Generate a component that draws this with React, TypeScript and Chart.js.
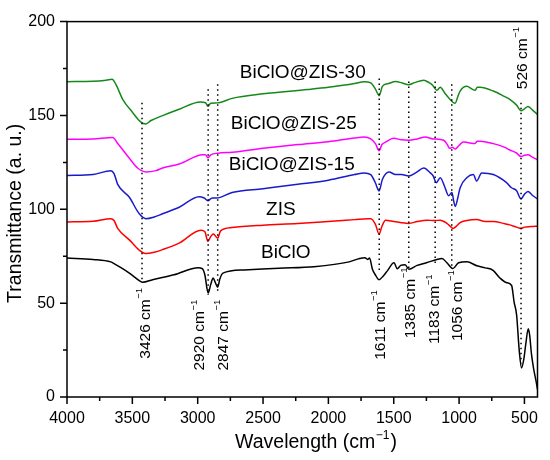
import { useEffect, useRef } from "react"
import { Chart, registerables } from "chart.js"

Chart.register(...registerables)

const FONT = "'Liberation Sans', Arial, Helvetica, sans-serif"

// FTIR spectra: wavenumber (cm-1) and transmittance (a. u.)
const wnBiClO = [4000, 3800, 3665, 3650, 3587, 3523, 3447, 3421, 3345, 3182, 2995, 2965, 2945, 2920, 2900, 2882, 2865, 2847, 2830, 2807, 2646, 2378, 2110, 1841, 1761, 1720, 1700, 1685, 1663, 1640, 1613, 1580, 1549, 1498, 1473, 1447, 1413, 1384, 1321, 1250, 1169, 1131, 1093, 1047, 1004, 940, 864, 800, 740, 688, 640, 598, 579, 560, 540, 522, 505, 490, 471, 460, 446, 428, 410, 400]
const tBiClO = [74, 73.3, 72, 71.5, 68.9, 66, 62, 61.1, 62.5, 65.1, 68.9, 68.4, 65, 55.4, 60, 63.4, 61, 58.5, 63, 66, 67.7, 68.6, 69.4, 72, 73.8, 74.2, 73.3, 74.1, 68, 65, 62.5, 64.5, 67.2, 71.5, 68.3, 70.1, 70.5, 68, 70.1, 71.5, 73.3, 73.8, 71.5, 68.4, 71.5, 72, 69.9, 68.8, 67.5, 63.4, 61, 59.4, 50.6, 43.8, 25, 15.5, 20, 28, 36.4, 33, 22.8, 14.4, 8, 4]

const wnZIS = [4000, 3800, 3665, 3640, 3612, 3523, 3447, 3399, 3333, 3269, 3142, 2975, 2945, 2922, 2900, 2880, 2847, 2825, 2737, 2500, 2234, 2000, 1800, 1700, 1676, 1640, 1612, 1590, 1562, 1500, 1450, 1385, 1320, 1245, 1190, 1144, 1093, 1060, 1047, 1020, 992, 940, 866, 800, 738, 650, 612, 560, 526, 500, 450, 400]
const tZIS = [93.3, 93.6, 95, 94, 89.8, 83.7, 78.2, 76.4, 77.1, 78.5, 82, 88.9, 88, 82.9, 85.5, 86.8, 84.6, 88.5, 90.3, 91.5, 92.4, 93.5, 94.5, 95, 95, 92, 86.8, 91, 94.2, 93.5, 93, 92.5, 93.5, 94.2, 94, 94.2, 92.5, 90.5, 89.8, 91, 92.9, 94, 94.5, 93.5, 93.5, 92.3, 91.7, 90.5, 89.8, 90.5, 90.8, 91]

const wnZIS15 = [4000, 3800, 3665, 3640, 3612, 3523, 3447, 3396, 3333, 3269, 3142, 2990, 2950, 2922, 2890, 2856, 2737, 2500, 2234, 2000, 1800, 1727, 1676, 1640, 1612, 1587, 1536, 1486, 1440, 1385, 1330, 1270, 1220, 1200, 1174, 1144, 1110, 1080, 1055, 1040, 1030, 1010, 992, 941, 891, 866, 827, 738, 637, 599, 561, 526, 500, 473, 440, 400]
const tZIS15 = [118, 118.5, 120.6, 119, 113.3, 106.4, 97.6, 95, 95.9, 97.6, 101.1, 106.7, 106, 104.6, 106, 106, 109, 111, 113.3, 115.5, 118.5, 119.4, 118.5, 114, 109.8, 115.9, 119.9, 118.5, 118.5, 117.7, 119.5, 122, 119.4, 118, 114.2, 116.8, 112, 107.2, 108.9, 104, 101.5, 106, 111.5, 116.8, 118.5, 115.1, 119.4, 118.5, 114.2, 111.5, 110, 105.5, 108, 109.5, 107.5, 105.5]

const wnZIS25 = [4000, 3800, 3650, 3612, 3523, 3460, 3396, 3320, 3269, 3142, 2960, 2940, 2922, 2900, 2843, 2737, 2500, 2234, 2000, 1800, 1727, 1676, 1640, 1612, 1590, 1562, 1500, 1440, 1385, 1320, 1258, 1200, 1118, 1090, 1073, 1050, 1030, 1000, 967, 930, 878, 860, 840, 738, 650, 612, 560, 526, 500, 473, 440, 400]
const tZIS25 = [137.3, 137.5, 138.2, 135.1, 127.2, 122, 119.9, 120.6, 122, 124.1, 129, 129, 127.4, 129, 129.9, 130.4, 132.5, 134.5, 136, 138, 138.5, 137.5, 135, 131.2, 134.5, 135.8, 137.8, 137, 136.8, 137.5, 138.5, 137.5, 136.8, 134.5, 132.5, 133, 132.1, 134, 135.9, 135.5, 135.1, 136.3, 136.3, 135, 133, 131.6, 130, 128.1, 128.8, 129, 127.8, 126.4]

const wnZIS30 = [4000, 3800, 3700, 3655, 3625, 3574, 3498, 3434, 3396, 3357, 3269, 3142, 2980, 2940, 2922, 2900, 2850, 2737, 2500, 2158, 2000, 1800, 1727, 1676, 1640, 1611, 1587, 1540, 1486, 1436, 1385, 1340, 1270, 1230, 1207, 1169, 1144, 1110, 1080, 1030, 1010, 992, 941, 900, 878, 860, 840, 738, 650, 612, 560, 526, 500, 473, 440, 400]
const tZIS30 = [168, 168.2, 168.8, 169.3, 166.4, 158.6, 151.6, 146.4, 145.5, 147.3, 149.9, 153.3, 157.2, 156.8, 154.9, 156.5, 156.7, 159.1, 161.5, 163.8, 165, 167, 168, 167.3, 164, 160.5, 165.5, 167, 168.1, 167.3, 166.4, 167.5, 168.7, 167.5, 166.4, 163.4, 165, 162, 159.4, 156.5, 160, 163, 165.5, 164, 163.4, 165, 165, 163, 160, 158.6, 155.5, 152.5, 153.5, 154.8, 153, 150.5]

const seriesNames = ["BiClO", "ZIS", "BiClO@ZIS-15", "BiClO@ZIS-25", "BiClO@ZIS-30"]
const seriesWn = [wnBiClO, wnZIS, wnZIS15, wnZIS25, wnZIS30]
const seriesT = [tBiClO, tZIS, tZIS15, tZIS25, tZIS30]
const seriesColors = ["#000000", "#ff0000", "#1a1acc", "#ff00ff", "#16881a"]

const peaks = [3426, 2920, 2847, 1611, 1385, 1183, 1056, 526]
const xTicks = [4000, 3500, 3000, 2500, 2000, 1500, 1000, 500]
const yTicks = [0, 50, 100, 150, 200]

// layout of the annotations (in axis units, plus small pixel nudges)
const guideTop = [156.7, 164, 166.6, 169.7, 168.1, 168.1, 166.6, 156.7]
const guideBottom = [61.1, 54.3, 55.9, 66.3, 67.9, 70, 68.9, 17.8]
const labelStart = [20.4, 14.1, 14.1, 19.8, 31.3, 28.2, 29.8, 164]
const labelShift = [4, -8, 6, 1, 2, 0, 6, 1.5]
const nameAt = [[2326, 76.8], [2364, 99.5], [2280, 123.5], [2265, 145.7], [2196, 172.6]]

// text followed by a raised "-1", optionally rotated and with a tail after it
function drawCm(ctx: CanvasRenderingContext2D, text: string, x: number, y: number, size: number, vertical: boolean, center: boolean, tail = "") {
  ctx.save()
  ctx.translate(x, y)
  if (vertical) ctx.rotate(-Math.PI / 2)
  const main = `${size}px ${FONT}`
  const sup = `${size * 0.62}px ${FONT}`
  ctx.font = main
  const w = ctx.measureText(text).width
  const wt = ctx.measureText(tail).width
  ctx.font = sup
  const ws = ctx.measureText("\u22121").width
  const x0 = center ? -(w + ws + 1.5 + wt) / 2 : 0
  ctx.fillStyle = "#000"
  ctx.textAlign = "left"
  ctx.textBaseline = "middle"
  ctx.font = main
  ctx.fillText(text, x0, 0)
  if (tail) ctx.fillText(tail, x0 + w + ws + 1.5, 0)
  ctx.font = sup
  ctx.fillText("\u22121", x0 + w + 0.5, -size * 0.4)
  ctx.restore()
}

const decor = {
  id: "decor",
  afterDatasetsDraw(chart: any) {
    const { ctx, chartArea: a } = chart
    const xs = chart.scales.x
    const ys = chart.scales.y
    ctx.save()
    ctx.strokeStyle = "#000"
    ctx.lineWidth = 1.5
    ctx.strokeRect(a.left, a.top, a.right - a.left, a.bottom - a.top)

    // outward ticks, major and minor
    ctx.beginPath()
    xTicks.forEach((v) => {
      const px = xs.getPixelForValue(v)
      ctx.moveTo(px, a.bottom)
      ctx.lineTo(px, a.bottom + 7)
      if (v - 250 >= 400) {
        const pm = xs.getPixelForValue(v - 250)
        ctx.moveTo(pm, a.bottom)
        ctx.lineTo(pm, a.bottom + 4)
      }
    })
    yTicks.forEach((v) => {
      const py = ys.getPixelForValue(v)
      ctx.moveTo(a.left, py)
      ctx.lineTo(a.left - 7, py)
      if (v + 25 < 200) {
        const pm = ys.getPixelForValue(v + 25)
        ctx.moveTo(a.left, pm)
        ctx.lineTo(a.left - 4, pm)
      }
    })
    ctx.stroke()

    // dotted guides at the peaks
    ctx.setLineDash([1.5, 3.5])
    ctx.beginPath()
    peaks.forEach((p, i) => {
      const px = xs.getPixelForValue(p)
      ctx.moveTo(px, ys.getPixelForValue(guideTop[i]))
      ctx.lineTo(px, ys.getPixelForValue(guideBottom[i]))
    })
    ctx.stroke()
    ctx.setLineDash([])

    peaks.forEach((p, i) => {
      drawCm(ctx, `${p} cm`, xs.getPixelForValue(p) + labelShift[i], ys.getPixelForValue(labelStart[i]), 15.5, true, false)
    })

    // sample names
    ctx.fillStyle = "#000"
    ctx.font = `19px ${FONT}`
    ctx.textAlign = "center"
    ctx.textBaseline = "middle"
    seriesNames.forEach((n, i) => {
      ctx.fillText(n, xs.getPixelForValue(nameAt[i][0]), ys.getPixelForValue(nameAt[i][1]))
    })

    // axis titles
    drawCm(ctx, "Wavelength (cm", 316, 443, 19.5, false, true, ")")
    ctx.font = `19.5px ${FONT}`
    ctx.textAlign = "center"
    ctx.textBaseline = "middle"
    ctx.save()
    ctx.translate(16, (a.top + a.bottom) / 2 + 4)
    ctx.rotate(-Math.PI / 2)
    ctx.fillText("Transmittance (a. u.)", 0, 0)
    ctx.restore()
    ctx.restore()
  },
}

export default function App() {
  const chartRef = useRef<HTMLCanvasElement>(null)
  const chartInstance = useRef<Chart | null>(null)

  useEffect(() => {
    document.body.style.margin = "0"
    if (!chartRef.current) return
    if (chartInstance.current) chartInstance.current.destroy()

    const datasets = seriesNames.map((name, i) => ({
      label: name,
      data: seriesWn[i].map((w, j) => ({ x: w, y: seriesT[i][j] })),
      borderColor: seriesColors[i],
      backgroundColor: seriesColors[i],
      borderWidth: 1.5,
      pointRadius: 0,
      cubicInterpolationMode: "monotone" as const,
      fill: false,
    }))

    chartInstance.current = new Chart(chartRef.current, {
      type: "line",
      data: { datasets },
      options: {
        animation: false,
        responsive: true,
        maintainAspectRatio: false,
        layout: { padding: { top: 14, right: 8, left: 0, bottom: 0 } },
        plugins: { legend: { display: false }, tooltip: { enabled: false } },
        scales: {
          x: {
            type: "linear",
            reverse: true,
            min: 400,
            max: 4000,
            afterBuildTicks: (s: any) => {
              s.ticks = xTicks.map((v) => ({ value: v }))
            },
            afterFit: (s: any) => {
              s.height = 63
            },
            grid: { display: false, drawTicks: false },
            border: { display: false },
            ticks: {
              color: "#000",
              font: { family: FONT, size: 16 },
              padding: 12,
              maxRotation: 0,
              autoSkip: false,
              callback: (v: any) => String(v),
            },
          },
          y: {
            min: 0,
            max: 200,
            afterBuildTicks: (s: any) => {
              s.ticks = yTicks.map((v) => ({ value: v }))
            },
            afterFit: (s: any) => {
              s.width = 67
            },
            grid: { display: false, drawTicks: false },
            border: { display: false },
            ticks: { color: "#000", font: { family: FONT, size: 16 }, padding: 12, callback: (v: any) => String(v) },
          },
        },
      },
      plugins: [decor],
    })

    return () => {
      if (chartInstance.current) {
        chartInstance.current.destroy()
        chartInstance.current = null
      }
    }
  }, [])

  return (
    <div style={{ width: 550, height: 460 }}>
      <canvas ref={chartRef} />
    </div>
  )
}
